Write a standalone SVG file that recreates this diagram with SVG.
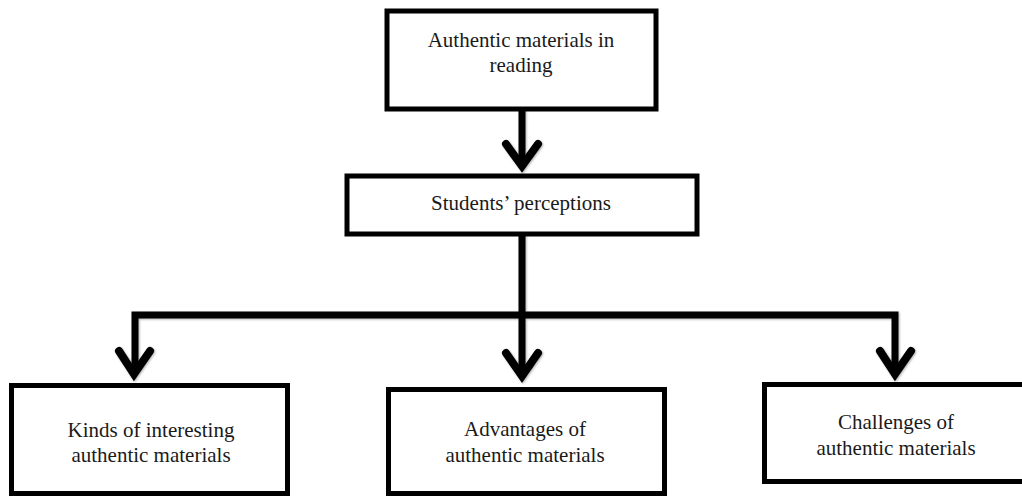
<svg xmlns="http://www.w3.org/2000/svg" width="1022" height="496" viewBox="0 0 1022 496">
  <defs>
    <filter id="sh" x="-10%" y="-10%" width="120%" height="120%">
      <feDropShadow dx="1" dy="1" stdDeviation="1" flood-color="#000" flood-opacity="0.3"/>
    </filter>
  </defs>
  <style>
    .box { fill: #fff; stroke: #000; stroke-width: 5; }
    .lbl { font-family: "Liberation Serif", "Times New Roman", serif; font-size: 21px; fill: #1a1a1a; text-anchor: middle; }
    .ln { fill: none; stroke: #000; stroke-width: 7; stroke-linejoin: miter; }
    .ah { fill: none; stroke: #000; stroke-width: 8; stroke-linecap: round; stroke-linejoin: miter; stroke-miterlimit: 10; }
  </style>
  <rect width="1022" height="496" fill="#fff"/>
  <g id="connectors" filter="url(#sh)">
    <path class="ln" d="M522 109 V166"/>
    <path class="ah" d="M506 144 L522 166 L538 144"/>
    <path class="ln" d="M522 234 V372"/>
    <path class="ln" d="M135 374 V315 H895 V374"/>
    <path class="ah" d="M119 351 L134 374 L150 351"/>
    <path class="ah" d="M506 353 L522 376 L538 353"/>
    <path class="ah" d="M880 351 L895 374 L911 351"/>
  </g>
  <g id="n-top">
    <rect class="box" x="387" y="11" width="269" height="98"/>
    <text class="lbl" x="521" y="47">Authentic materials in</text>
    <text class="lbl" x="521" y="72">reading</text>
  </g>
  <g id="n-students">
    <rect class="box" x="347" y="176" width="350" height="58"/>
    <text class="lbl" x="521" y="210">Students’ perceptions</text>
  </g>
  <g id="n-kinds">
    <rect class="box" x="11.5" y="385.5" width="276" height="108"/>
    <text class="lbl" x="151" y="437">Kinds of interesting</text>
    <text class="lbl" x="151" y="462">authentic materials</text>
  </g>
  <g id="n-advantages">
    <rect class="box" x="388.5" y="389.5" width="276" height="104"/>
    <text class="lbl" x="525" y="436">Advantages of</text>
    <text class="lbl" x="525" y="462">authentic materials</text>
  </g>
  <g id="n-challenges">
    <rect class="box" x="764.5" y="384.5" width="264" height="97"/>
    <text class="lbl" x="896" y="429">Challenges of</text>
    <text class="lbl" x="896" y="455">authentic materials</text>
  </g>
</svg>
